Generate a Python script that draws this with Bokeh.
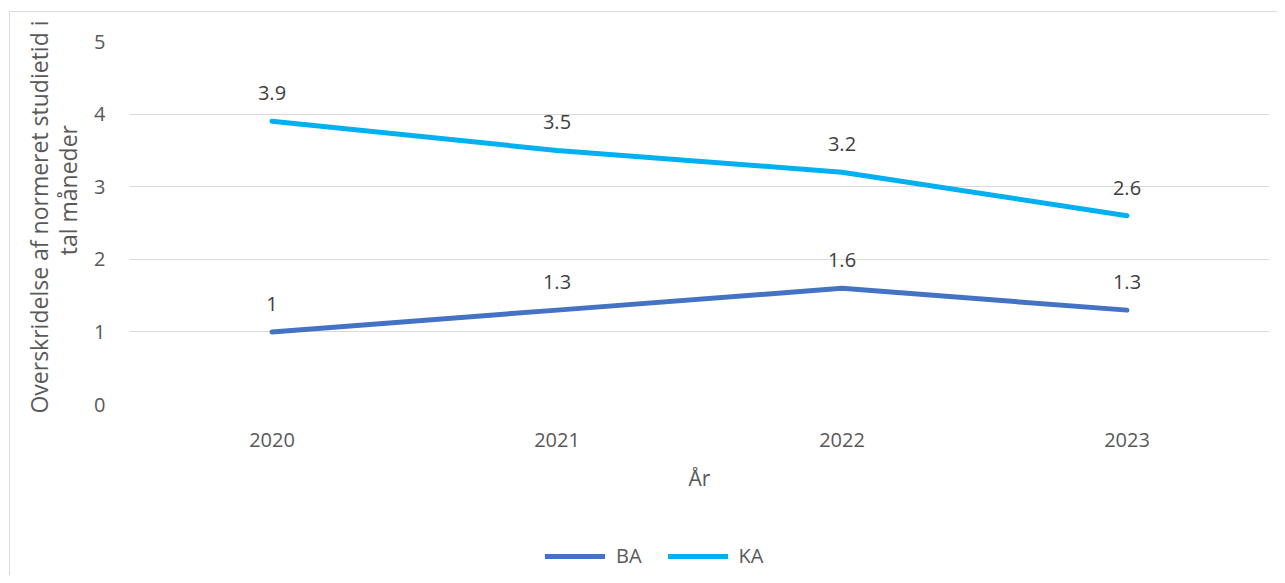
from bokeh.plotting import figure
from bokeh.layouts import column
from bokeh.models import (FactorRange, Range1d, LabelSet, ColumnDataSource, Legend,
                          LegendItem, FixedTicker)
from bokeh.core.properties import value
from bokeh.embed import file_html
from bokeh.resources import INLINE

# ---- data ----
years = ["2020", "2021", "2022", "2023"]
ba_values = [1.0, 1.3, 1.6, 1.3]
ka_values = [3.9, 3.5, 3.2, 2.6]
ba_labels = ["1", "1.3", "1.6", "1.3"]
ka_labels = ["3.9", "3.5", "3.2", "2.6"]
y_ticks = [0, 1, 2, 3, 4, 5]
series_names = ["BA", "KA"]
colors = ["#4472C4", "#00B0F0"]
y_title_lines = ["Overskridelse af normeret studietid i", "tal måneder"]
x_title = "År"

FONT = "Open Sans"
GRID = "#d9d9d9"
NB = "\u00a0"
W = 1277
H_TOP = 500
H_LEG = 75

p = figure(width=W, height=H_TOP,
           x_range=FactorRange(factors=years, range_padding=0),
           y_range=Range1d(0, 5),
           output_backend="svg", toolbar_location=None,
           min_border_left=129, min_border_right=8,
           min_border_top=41, min_border_bottom=H_TOP - 404)
# chart-area border (top and left edges visible), drawn as host background
p.styles = {
    "background": (f"linear-gradient({GRID},{GRID}) 9px 11px / 1px 100% no-repeat, "
                   f"linear-gradient({GRID},{GRID}) 9px 11px / 100% 1px no-repeat, white"),
}
p.outline_line_color = None
p.background_fill_color = "white"
p.border_fill_color = None

# grid
p.xgrid.grid_line_color = None
p.ygrid.grid_line_color = GRID
p.ygrid.grid_line_width = 1
p.yaxis.ticker = FixedTicker(ticks=y_ticks)

# axes
for ax in (p.xaxis[0], p.yaxis[0]):
    ax.axis_line_color = None
    ax.major_tick_line_color = None
    ax.minor_tick_line_color = None
    ax.major_tick_in = 0
    ax.major_tick_out = 0
    ax.minor_tick_in = 0
    ax.minor_tick_out = 0
    ax.major_label_text_font = FONT
    ax.major_label_text_font_size = "20px"
    ax.major_label_text_color = "#595959"
    ax.axis_label_text_font = FONT
    ax.axis_label_text_font_style = "normal"
    ax.axis_label_text_color = "#595959"

p.xaxis.major_label_standoff = 28
p.xaxis.axis_label = x_title
p.xaxis.axis_label_text_font_size = "21px"
p.xaxis.axis_label_standoff = 14
p.yaxis.major_label_standoff = 24
# leading no-break spaces nudge each rotated line upward as in the original layout
p.yaxis.axis_label = NB * 2 + y_title_lines[0] + "\n" + NB * 11 + y_title_lines[1]
p.yaxis.axis_label_text_font_size = "23px"
p.yaxis.axis_label_text_line_height = 0.92
p.yaxis.axis_label_standoff = 7

for name, vals, labs, col in zip(series_names, [ba_values, ka_values],
                                 [ba_labels, ka_labels], colors):
    src = ColumnDataSource(dict(x=years, y=vals, t=labs))
    p.line("x", "y", source=src, line_color=col, line_width=5,
           line_cap="round", line_join="round")
    lbl = LabelSet(x="x", y="y", text="t", source=src, y_offset=28,
                   text_align="center", text_baseline="middle",
                   text_font=value(FONT), text_font_size="20px",
                   text_color="#404040")
    p.add_layout(lbl)

# ---- legend strip at the bottom of the chart ----
# same series drawn on a y-range that keeps them out of view; only the legend shows
pl = figure(width=W, height=H_LEG,
            x_range=FactorRange(factors=years, range_padding=0),
            y_range=Range1d(100, 101),
            output_backend="svg", toolbar_location=None,
            min_border_left=129, min_border_right=8, min_border_top=0, min_border_bottom=0)
pl.styles = {
    "background": f"linear-gradient({GRID},{GRID}) 9px 0px / 1px 100% no-repeat, white",
}
pl.axis.visible = False
pl.grid.visible = False
pl.outline_line_color = None
pl.background_fill_color = None
pl.border_fill_color = None

leg_renderers = []
for name, vals, col in zip(series_names, [ba_values, ka_values], colors):
    r = pl.line(x=years, y=vals, line_color=col, line_width=5, line_cap="round")
    leg_renderers.append(r)

legend = Legend(items=[LegendItem(label=n, renderers=[r]) for n, r in zip(series_names, leg_renderers)],
                orientation="horizontal", location=(416, 6),
                glyph_width=60, glyph_height=20, label_standoff=11, spacing=26,
                padding=0, margin=0,
                label_text_font=FONT, label_text_font_size="20px",
                label_text_color="#595959",
                border_line_color=None, background_fill_alpha=0)
pl.add_layout(legend, "center")

layout = column(p, pl, spacing=0)
open("out.html", "w").write(file_html(layout, INLINE))
